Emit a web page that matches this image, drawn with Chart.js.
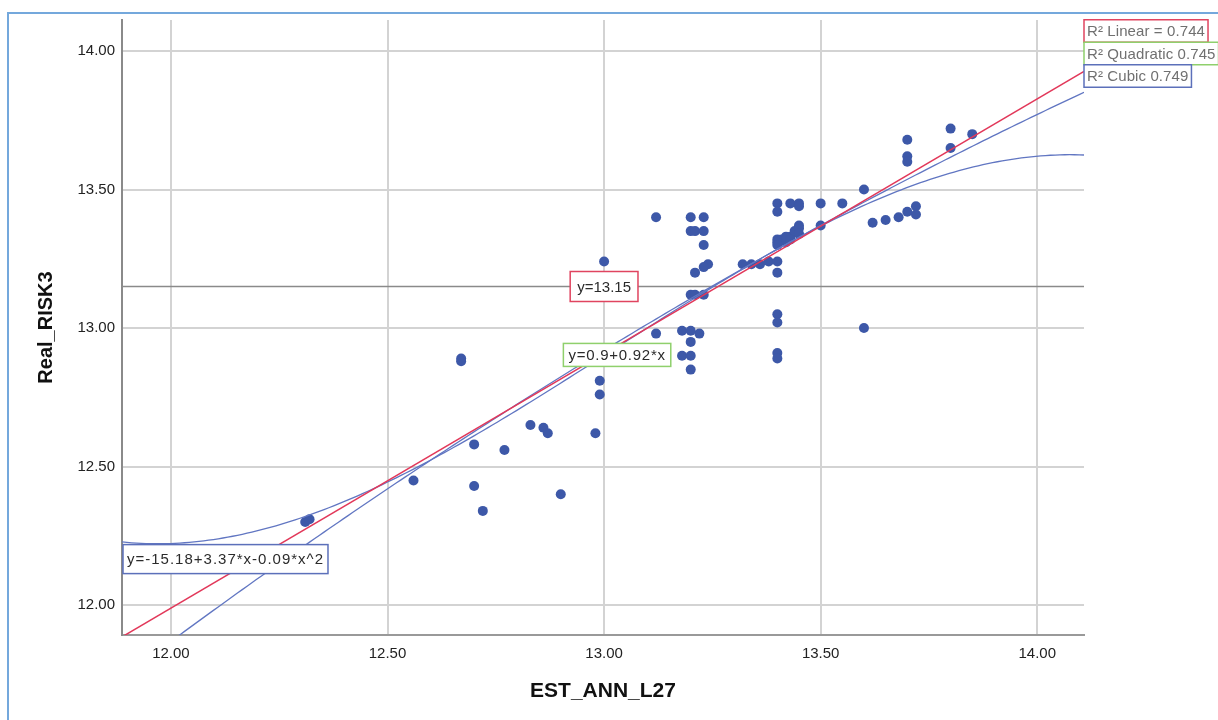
<!DOCTYPE html>
<html>
<head>
<meta charset="utf-8">
<title>Real_RISK3 vs EST_ANN_L27</title>
<script src="https://cdn.jsdelivr.net/npm/chart.js@4.4.1/dist/chart.umd.min.js"></script>
<style>
  html, body { margin: 0; padding: 0; background: #fff; overflow: hidden; }
  #frame { position: absolute; left: 7px; top: 12px; width: 1230px; height: 730px; border-left: 2px solid #74a8dc; border-top: 2px solid #74a8dc; }
  #wrap { position: absolute; left: 0; top: 0; width: 1218px; height: 720px; }
</style>
</head>
<body>
<div id="frame"></div>
<div id="wrap"><canvas id="chart"></canvas></div>
<script>
// observed cases (EST_ANN_L27, Real_RISK3)
const estAnn = [
  12.31, 12.32, 12.56, 12.67, 12.67, 12.70, 12.70, 12.72, 12.77, 12.83,
  12.86, 12.87, 12.90, 12.98, 12.99, 12.99, 13.00, 13.12, 13.12, 13.20,
  13.23, 13.20, 13.21, 13.23, 13.23, 13.24, 13.23, 13.21, 13.20, 13.21,
  13.23, 13.18, 13.20, 13.22, 13.20, 13.18, 13.20, 13.20, 13.32, 13.34,
  13.36, 13.38, 13.40, 13.40, 13.40, 13.40, 13.43, 13.45, 13.45, 13.50,
  13.55, 13.60, 13.50, 13.62, 13.65, 13.68, 13.70, 13.72, 13.72, 13.40,
  13.40, 13.40, 13.40, 13.60, 13.70, 13.70, 13.70, 13.80, 13.80, 13.85,
  13.40, 13.41, 13.40, 13.42, 13.43, 13.44, 13.45, 13.45, 13.45, 13.40,
  13.42, 13.43
];
const realRisk = [
  12.30, 12.31, 12.45, 12.89, 12.88, 12.58, 12.43, 12.34, 12.56, 12.65,
  12.64, 12.62, 12.40, 12.62, 12.81, 12.76, 13.24, 13.40, 12.98, 13.40,
  13.40, 13.35, 13.35, 13.35, 13.30, 13.23, 13.22, 13.20, 13.12, 13.12,
  13.12, 12.99, 12.99, 12.98, 12.95, 12.90, 12.90, 12.85, 13.23, 13.23,
  13.23, 13.24, 13.24, 13.20, 13.45, 13.42, 13.45, 13.45, 13.44, 13.45,
  13.45, 13.50, 13.37, 13.38, 13.39, 13.40, 13.42, 13.44, 13.41, 13.05,
  13.02, 12.91, 12.89, 13.00, 13.68, 13.62, 13.60, 13.72, 13.65, 13.70,
  13.32, 13.32, 13.31, 13.31, 13.33, 13.35, 13.37, 13.36, 13.34, 13.30,
  13.33, 13.32
];

const xRange = [11.887, 14.108];
const yRange = [11.892, 14.112];
const xTicks = [12.0, 12.5, 13.0, 13.5, 14.0];
const yTicks = [12.0, 12.5, 13.0, 13.5, 14.0];

// fitted curves, coefficients in powers of (x - fitCenter)
const fitCenter = 13;
const linearCoef = [12.908, 0.919];
const quadCoef = [12.92, 0.951, -0.1];
const cubicCoef = [12.901, 0.999, 0.0203, -0.30];

const meanRisk = 13.15;
const r2Labels = ["R\u00b2 Linear = 0.744", "R\u00b2 Quadratic 0.745", "R\u00b2 Cubic 0.749"];
const linearEquation = "y=0.9+0.92*x";
const quadEquation = "y=-15.18+3.37*x-0.09*x^2";
const linearLabelAt = [13.03, 12.903];
const quadLabelAtY = 12.166;

const FONT = "'Liberation Sans', Arial, sans-serif";

function polyAt(coef, x) {
  const t = x - fitCenter;
  let y = 0;
  coef.forEach((c, i) => { y += c * Math.pow(t, i); });
  return y;
}

function curvePoints(coef, n) {
  const pts = [];
  for (let i = 0; i <= n; i++) {
    const x = xRange[0] + (xRange[1] - xRange[0]) * i / n;
    pts.push({ x: x, y: polyAt(coef, x) });
  }
  return pts;
}

function drawBox(ctx, text, x, y, opts) {
  ctx.font = "15px " + FONT;
  ctx.letterSpacing = (opts.spacing || 0) + "px";
  const w = ctx.measureText(text).width + opts.padX * 2;
  const left = opts.align === "left" ? x : x - w / 2;
  const top = y - opts.h / 2;
  ctx.fillStyle = "#fff";
  ctx.fillRect(left, top, w, opts.h);
  ctx.strokeStyle = opts.border;
  ctx.lineWidth = 1.5;
  ctx.strokeRect(left, top, w, opts.h);
  ctx.fillStyle = opts.color;
  ctx.textBaseline = "middle";
  ctx.textAlign = "left";
  ctx.fillText(text, left + opts.padX, y + 1);
  ctx.letterSpacing = "0px";
}

const annotations = {
  id: "annotations",
  beforeDatasetsDraw(chart) {
    const { ctx, chartArea: a, scales } = chart;
    const py = scales.y.getPixelForValue(meanRisk);
    ctx.save();
    ctx.strokeStyle = "#8a8a8a";
    ctx.lineWidth = 1.5;
    ctx.beginPath();
    ctx.moveTo(a.left, py);
    ctx.lineTo(a.right, py);
    ctx.stroke();
    ctx.restore();
  },
  afterDatasetsDraw(chart) {
    const { ctx, chartArea: a, scales } = chart;
    const sx = scales.x, sy = scales.y;
    ctx.save();
    drawBox(ctx, "y=" + meanRisk.toFixed(2), sx.getPixelForValue(13.0), sy.getPixelForValue(meanRisk),
      { align: "center", padX: 7, h: 30, border: "#e0445f", color: "#2b2b2b" });
    drawBox(ctx, linearEquation, sx.getPixelForValue(linearLabelAt[0]), sy.getPixelForValue(linearLabelAt[1]),
      { align: "center", padX: 5, h: 23, spacing: 0.75, border: "#8fd06c", color: "#2b2b2b" });
    drawBox(ctx, quadEquation, a.left + 1, sy.getPixelForValue(quadLabelAtY),
      { align: "left", padX: 4, h: 29, spacing: 1, border: "#5c70ba", color: "#2b2b2b" });
    const borders = ["#e0445f", "#8fd06c", "#5c70ba"];
    r2Labels.forEach((t, i) => {
      drawBox(ctx, t, a.right, a.top + 11 + i * 22.5,
        { align: "left", padX: 3, h: 22.5, spacing: 0.1, border: borders[i], color: "#707070" });
    });
    ctx.restore();
  }
};

const points = estAnn.map((x, i) => ({ x: x, y: realRisk[i] }));

new Chart(document.getElementById("chart"), {
  type: "scatter",
  data: {
    datasets: [
      {
        label: "Linear",
        data: curvePoints(linearCoef, 1),
        showLine: true,
        borderColor: "#e2385a",
        borderWidth: 1.5,
        pointRadius: 0,
        order: 0
      },
      {
        label: "Quadratic",
        data: curvePoints(quadCoef, 200),
        showLine: true,
        borderColor: "#6176c2",
        borderWidth: 1.3,
        pointRadius: 0,
        order: 1
      },
      {
        label: "Cubic",
        data: curvePoints(cubicCoef, 200),
        showLine: true,
        borderColor: "#6176c2",
        borderWidth: 1.3,
        pointRadius: 0,
        order: 1
      },
      {
        label: "Real_RISK3",
        data: points,
        backgroundColor: "#3d58a8",
        borderWidth: 0,
        pointRadius: 5,
        order: 2
      }
    ]
  },
  options: {
    responsive: true,
    maintainAspectRatio: false,
    animation: false,
    layout: { padding: { left: 0, top: 20, right: 134, bottom: 0 } },
    plugins: {
      legend: { display: false },
      tooltip: { enabled: false }
    },
    scales: {
      x: {
        type: "linear",
        min: xRange[0],
        max: xRange[1],
        afterBuildTicks: (s) => { s.ticks = xTicks.map((v) => ({ value: v })); },
        afterFit: (s) => { s.height = 85; },
        ticks: {
          callback: (v) => Number(v).toFixed(2),
          font: { family: FONT, size: 15 },
          color: "#222",
          padding: 10,
          maxRotation: 0,
          autoSkip: false
        },
        grid: { color: "#d3d3d3", lineWidth: 2, drawTicks: false },
        border: { color: "#999", width: 2 },
        title: {
          display: true,
          text: "EST_ANN_L27",
          font: { family: FONT, size: 21, weight: "bold" },
          color: "#111",
          padding: { top: 0, bottom: 16 }
        }
      },
      y: {
        type: "linear",
        min: yRange[0],
        max: yRange[1],
        afterBuildTicks: (s) => { s.ticks = yTicks.map((v) => ({ value: v })); },
        afterFit: (s) => { s.width = 122; },
        ticks: {
          callback: (v) => Number(v).toFixed(2),
          font: { family: FONT, size: 15 },
          color: "#222",
          padding: 7,
          autoSkip: false
        },
        grid: { color: "#d3d3d3", lineWidth: 2, drawTicks: false },
        border: { color: "#8a8a8a", width: 2 },
        title: {
          display: true,
          text: "Real_RISK3",
          font: { family: FONT, size: 20, weight: "bold" },
          color: "#111",
          padding: { top: 34, bottom: 0 }
        }
      }
    }
  },
  plugins: [annotations]
});
</script>
</body>
</html>
